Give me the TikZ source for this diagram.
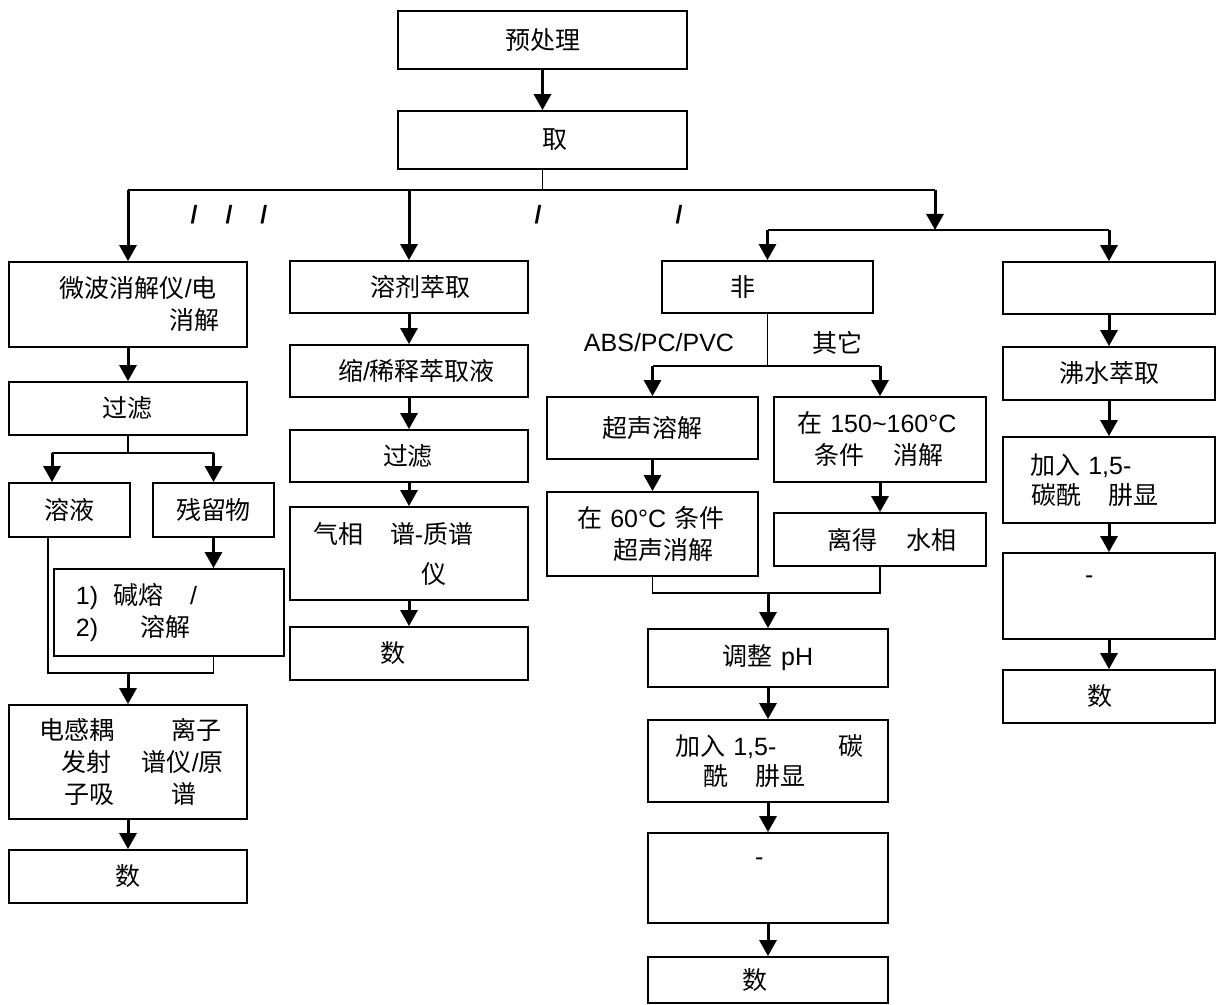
\documentclass[tikz,border=0pt]{standalone}
\usepackage{fontspec}
\setmainfont{Noto Sans CJK SC}
\newfontfamily\latn{Liberation Sans}
\usetikzlibrary{arrows.meta}
\tikzset{
    box/.style 2 args={draw, line width=0.9pt, inner sep=0pt, text width=#1, minimum height=#2, align=left},
    arr/.style={line width=1.5pt, -{Triangle[length=8pt,width=8.5pt]}},
    link/.style={line width=0.9pt},
}
\begin{document}
\begin{tikzpicture}[x=0.5pt, y=-0.5pt, font=\fontsize{12.5}{16}\selectfont]
        \useasboundingbox (0,0) rectangle (1223,1005);

        \node[box={144.5pt}{29pt}, align=center] (pre) at (542.5,40) {预处理};
        \node[box={144.5pt}{29pt}, align=center] (qu) at (542.5,140) {\hspace*{12pt}取};

        \node (sl1) at (229,215) {\latn\bfseries /\hspace{14pt}/\hspace{14pt}/};
        \node (sl2) at (538,215) {\latn\bfseries /};
        \node (sl3) at (679,215) {\latn\bfseries /};

        \node[box={119pt}{42.5pt}] (mw) at (128,304.5) {\hspace*{25.5pt}微波消解仪{\latn /}电\\\hspace*{80.5pt}消解};
        \node[box={119pt}{26.5pt}, align=center] (ft1) at (128,408.5) {过滤};
        \node[box={60.5pt}{27pt}, align=center] (sy) at (69.5,510) {溶液};
        \node[box={60.5pt}{27pt}, align=center] (cl) at (213.5,510) {残留物};
        \node[box={115pt}{43.5pt}] (jr) at (169,612.5) {\hspace*{11pt}{\latn 1)}\hspace{7.5pt}碱熔\hspace{13.5pt}{\latn /}\\\hspace*{11pt}{\latn 2)}\hspace{21pt}溶解};
        \node[box={119pt}{57pt}] (dg) at (128,762) {\hspace*{15.5pt}电感耦\hspace{28.5pt}离子\\\hspace*{26.5pt}发射\hspace{15pt}谱仪{\latn /}原\\\hspace*{28pt}子吸\hspace{28.5pt}谱};
        \node[box={119pt}{26.5pt}, align=center] (sj1) at (128,876.5) {数};

        \node[box={119pt}{26pt}] (sol) at (409,287) {\hspace*{40pt}溶剂萃取};
        \node[box={119pt}{26pt}] (nx) at (409,371) {\hspace*{24pt}缩{\latn /}稀释萃取液};
        \node[box={119pt}{26pt}] (ft2) at (409,456) {\hspace*{46.5pt}过滤};
        \node[box={119pt}{46.5pt}] (gc) at (409,553.5) {\hspace*{11.5pt}气相\hspace{13.5pt}谱{\latn -}质谱\\[4pt]\hspace*{66pt}仪};
        \node[box={119pt}{26.5pt}] (sj2) at (409,653.5) {\hspace*{45pt}数};

        \node[box={105.5pt}{26pt}] (fei) at (767.5,287) {\hspace*{34pt}非};
        \node (abs) at (659,343) {\latn ABS/PC/PVC};
        \node (qt) at (837,343) {其它};
        \node[box={105.5pt}{31pt}, align=center] (cs) at (652.5,428) {超声溶解};
        \node[box={106pt}{42.5pt}] (wd) at (880,439.5) {\hspace*{11.5pt}在{\latn\ 150\textasciitilde160°C}\\\hspace*{20pt}条件\hspace{14.5pt}消解};
        \node[box={105.5pt}{42pt}] (sx) at (652.5,534) {\hspace*{15pt}在{\latn\ 60°C }条件\\\hspace*{33pt}超声消解};
        \node[box={106pt}{26.5pt}] (lx) at (880,539.5) {\hspace*{26.5pt}离得\hspace{15pt}水相};
        \node[box={120pt}{29pt}, align=center] (tz) at (768,658) {调整{\latn\ pH}};
        \node[box={120pt}{41pt}] (jb1) at (768,761) {\hspace*{13.5pt}加入{\latn\ 1,5-}\hspace{31pt}碳\\[-1pt]\hspace*{27.5pt}酰\hspace{13.5pt}肼显};
        \node[box={120pt}{45pt}] (dh1) at (768,878) {\hspace*{53.5pt}{\latn -}\\\mbox{}};
        \node[box={120pt}{23pt}] (sj3) at (768,980) {\hspace*{47pt}数};

        \node[box={106pt}{26pt}] (emp) at (1109,288) {};
        \node[box={106pt}{26.5pt}, align=center] (fs) at (1109,373.5) {沸水萃取};
        \node[box={106pt}{43pt}] (jb2) at (1109,480) {\hspace*{13.5pt}加入{\latn\ 1,5-}\\[-1pt]\hspace*{14pt}碳酰\hspace{14pt}肼显};
        \node[box={106pt}{43pt}] (dh2) at (1109,596) {\hspace*{41pt}{\latn -}\\\mbox{}};
        \node[box={106pt}{26.5pt}] (sj4) at (1109,696.5) {\hspace*{42pt}数};

        \coordinate (b0) at (542.5,190);
        \coordinate (b0r) at (935,190);
        \coordinate (b5) at (935,230);
        \draw[arr] (pre.south) -- (qu.north);
        \draw[link] (qu.south) -- (b0);
        \draw[link] (mw.north |- b0) -- (b0r);
        \draw[arr] (mw.north |- b0) -- (mw.north);
        \draw[arr] (sol.north |- b0) -- (sol.north);
        \draw[arr] (b0r) -- (b5);
        \draw[link] (fei.north |- b5) -- (emp.north |- b5);
        \draw[arr] (fei.north |- b5) -- (fei.north);
        \draw[arr] (emp.north |- b5) -- (emp.north);

        \coordinate (b1l) at (52,453);
        \coordinate (b1r) at (213.5,453);
        \coordinate (b2l) at (48,673);
        \coordinate (b2r) at (213.5,673);
        \draw[arr] (mw.south) -- (ft1.north);
        \draw[link] (ft1.south) -- (ft1.south |- b1l);
        \draw[link] (b1l) -- (b1r);
        \draw[arr] (b1l) -- (b1l |- sy.north);
        \draw[arr] (b1r) -- (cl.north);
        \draw[arr] (cl.south) -- (cl.south |- jr.north);
        \draw[link] (sy.south -| b2l) -- (b2l) -- (b2r) -- (jr.south -| b2r);
        \draw[arr] (b2l -| dg.north) -- (dg.north);
        \draw[arr] (dg.south) -- (sj1.north);

        \draw[arr] (sol.south) -- (nx.north);
        \draw[arr] (nx.south) -- (ft2.north);
        \draw[arr] (ft2.south) -- (gc.north);
        \draw[arr] (gc.south) -- (sj2.north);

        \coordinate (b3) at (767.5,366);
        \coordinate (b4) at (768,593);
        \draw[link] (fei.south) -- (b3);
        \draw[link] (cs.north |- b3) -- (wd.north |- b3);
        \draw[arr] (cs.north |- b3) -- (cs.north);
        \draw[arr] (wd.north |- b3) -- (wd.north);
        \draw[arr] (cs.south) -- (sx.north);
        \draw[arr] (wd.south) -- (lx.north);
        \draw[link] (sx.south) -- (sx.south |- b4) -- (lx.south |- b4) -- (lx.south);
        \draw[arr] (b4) -- (tz.north);
        \draw[arr] (tz.south) -- (jb1.north);
        \draw[arr] (jb1.south) -- (dh1.north);
        \draw[arr] (dh1.south) -- (sj3.north);

        \draw[arr] (emp.south) -- (fs.north);
        \draw[arr] (fs.south) -- (jb2.north);
        \draw[arr] (jb2.south) -- (dh2.north);
        \draw[arr] (dh2.south) -- (sj4.north);

    \end{tikzpicture}
\end{document}
